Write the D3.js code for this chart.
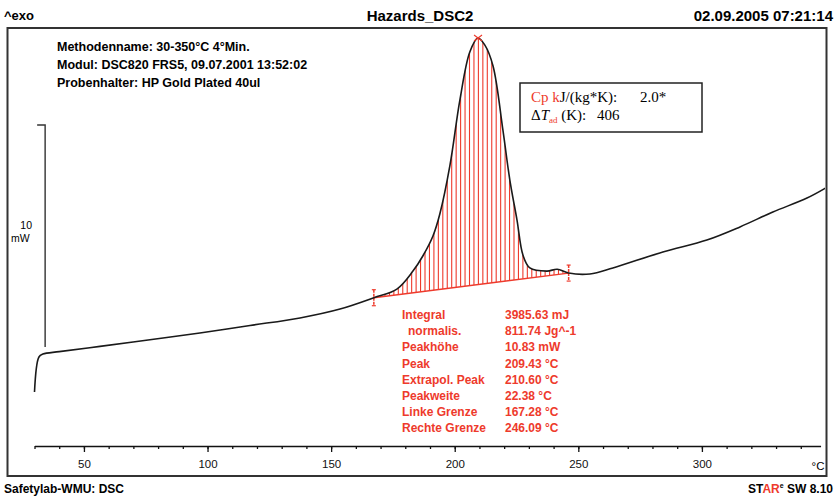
<!DOCTYPE html>
<html>
<head>
<meta charset="utf-8">
<script src="https://cdn.jsdelivr.net/npm/d3@7"></script>
<style>
  body { margin: 0; background: #fff; }
  svg { display: block; }
</style>
</head>
<body>
<div id="chart"></div>
<script>
// DSC curve, temperature in °C, heat flow in mW (exo up)
const temps = [30, 31.8, 33.4, 40, 56.5, 76.7, 96.9, 117.2, 137.4, 153.6, 167.3, 176.6, 183.1, 187.1, 191.2, 194, 198.1, 202.1, 206.1, 209.4, 212.2, 215.5, 219.5, 222.3, 225.2, 227.6, 230.4, 237.3, 241.5, 246.1, 254.7, 264, 284.2, 302, 315.4, 328.7, 342.5, 350];
const heatFlow = [-2.03, -0.45, -0.32, -0.21, 0.03, 0.33, 0.63, 0.97, 1.31, 1.71, 2.22, 2.61, 3.42, 4.1, 5.0, 6.0, 8.2, 11.13, 13.29, 13.92, 13.6, 12.66, 9.77, 7.52, 5.72, 4.14, 3.56, 3.42, 3.5, 3.33, 3.29, 3.56, 4.28, 4.82, 5.41, 6.08, 6.71, 7.16];

const majorTicks = [50, 100, 150, 200, 250, 300];
const minorTicks = d3.range(30, 350, 10);

const leftLimit = 167.28, rightLimit = 246.09, peakT = 209.43;

const resultLabels = ['Integral', '  normalis.', 'Peakhöhe', 'Peak', 'Extrapol. Peak', 'Peakweite', 'Linke Grenze', 'Rechte Grenze'];
const resultValues = ['3985.63 mJ', '811.74 Jg^-1', '10.83 mW', '209.43 °C', '210.60 °C', '22.38 °C', '167.28 °C', '246.09 °C'];

const methodLines = ['Methodenname: 30-350°C 4°Min.', 'Modul: DSC820 FRS5, 09.07.2001 13:52:02', 'Probenhalter: HP Gold Plated 40ul'];

const width = 834, height = 496;
const red = '#ee3a2c';
const sans = 'Liberation Sans, Arial, sans-serif';
const serif = 'Liberation Serif, Times New Roman, serif';

const data = temps.map((t, i) => ({ t: t, v: heatFlow[i] }));

const svg = d3.select('#chart').append('svg')
  .attr('width', width)
  .attr('height', height)
  .attr('font-family', sans);

const x = d3.scaleLinear().domain([30, 350]).range([34.5, 825.5]);
const y = d3.scaleLinear().domain([0, 10]).range([347, 125]);
const smooth = d3.curveCatmullRom.alpha(0.5);

// header
svg.append('text').attr('x', 4).attr('y', 20).attr('font-size', 13).attr('font-weight', 'bold').text('^exo');
svg.append('text').attr('x', 420).attr('y', 21).attr('text-anchor', 'middle').attr('font-size', 15).attr('font-weight', 'bold').text('Hazards_DSC2');
svg.append('text').attr('x', 833).attr('y', 21).attr('text-anchor', 'end').attr('font-size', 15).attr('font-weight', 'bold').text('02.09.2005 07:21:14');

// frame
svg.append('rect')
  .attr('x', 7.5).attr('y', 28)
  .attr('width', 819).attr('height', 448)
  .attr('fill', 'none').attr('stroke', '#333').attr('stroke-width', 2);

svg.append('defs').append('clipPath').attr('id', 'frameClip')
  .append('rect').attr('x', 9).attr('y', 29).attr('width', 816).attr('height', 446);

// method info
methodLines.forEach((s, i) => {
  svg.append('text')
    .attr('x', 57).attr('y', 51 + i * 18)
    .attr('font-size', 12.5).attr('font-weight', 'bold')
    .text(s);
});

// baseline between integration limits
function baseAt(t) {
  const v0 = heatFlow[temps.indexOf(167.3)];
  const v1 = heatFlow[temps.indexOf(246.1)];
  return v0 + (t - leftLimit) / (rightLimit - leftLimit) * (v1 - v0);
}

const peakPart = data.filter(d => d.t >= 167.3 && d.t <= 246.1);
const area = d3.area()
  .x(d => x(d.t))
  .y0(d => y(baseAt(d.t)))
  .y1(d => y(d.v))
  .curve(smooth);

svg.select('defs').append('clipPath').attr('id', 'peakClip')
  .append('path').attr('d', area(peakPart));

// hatching
const g = svg.append('g').attr('clip-path', 'url(#frameClip)');
g.append('g').attr('clip-path', 'url(#peakClip)')
  .selectAll('line')
  .data(d3.range(leftLimit + 0.9, rightLimit, 1.8))
  .join('line')
  .attr('x1', d => x(d)).attr('x2', d => x(d))
  .attr('y1', y(-3)).attr('y2', y(15))
  .attr('stroke', red).attr('stroke-width', 1.1);

g.append('line')
  .attr('x1', x(leftLimit)).attr('y1', y(baseAt(leftLimit)))
  .attr('x2', x(rightLimit)).attr('y2', y(baseAt(rightLimit)))
  .attr('stroke', red).attr('stroke-width', 1.4);

// limit markers
[leftLimit, rightLimit].forEach(t => {
  const cx = x(t), cy = y(baseAt(t));
  g.append('line').attr('x1', cx).attr('x2', cx).attr('y1', cy - 8).attr('y2', cy + 8)
    .attr('stroke', red).attr('stroke-width', 1.5).attr('stroke-dasharray', '3,1');
  [-8, 8].forEach(o => {
    g.append('line').attr('x1', cx - 2).attr('x2', cx + 2).attr('y1', cy + o).attr('y2', cy + o)
      .attr('stroke', red).attr('stroke-width', 1.2);
  });
});

// curve
const line = d3.line().x(d => x(d.t)).y(d => y(d.v)).curve(smooth);
g.append('path')
  .datum(data)
  .attr('d', line)
  .attr('fill', 'none')
  .attr('stroke', '#1a1a1a')
  .attr('stroke-width', 1.6);

// peak marker
const px = x(peakT), py = y(heatFlow[temps.indexOf(209.4)]);
g.append('path')
  .attr('d', `M${px - 4},${py - 3}L${px + 4},${py + 3}M${px - 4},${py + 3}L${px + 4},${py - 3}`)
  .attr('stroke', red).attr('stroke-width', 1.1);

// 10 mW scale bar
const barX = x(34.3);
svg.append('path')
  .attr('d', `M${barX - 8},${y(10)}H${barX}V${y(0)}`)
  .attr('fill', 'none').attr('stroke', '#333').attr('stroke-width', 1.4);
svg.append('text').attr('x', 32).attr('y', 229).attr('text-anchor', 'end').attr('font-size', 10.5).text('10');
svg.append('text').attr('x', 11).attr('y', 242).attr('font-size', 10.5).text('mW');

// Cp box
const box = svg.append('g');
box.append('rect').attr('x', 520).attr('y', 83).attr('width', 182).attr('height', 49)
  .attr('fill', 'none').attr('stroke', '#222').attr('stroke-width', 1.5);
const t1 = box.append('text').attr('x', 531).attr('y', 102).attr('font-family', serif).attr('font-size', 15);
t1.append('tspan').attr('fill', red).text('Cp k');
t1.append('tspan').text('J/(kg*K):');
box.append('text').attr('x', 640).attr('y', 102).attr('font-family', serif).attr('font-size', 15).text('2.0*');
const t2 = box.append('text').attr('x', 531).attr('y', 120).attr('font-family', serif).attr('font-size', 15);
t2.append('tspan').text('Δ');
t2.append('tspan').attr('font-style', 'italic').text('T');
t2.append('tspan').attr('fill', red).attr('font-size', 9).attr('dy', 3).text('ad');
t2.append('tspan').attr('dy', -3).text(' (K):');
box.append('text').attr('x', 597).attr('y', 120).attr('font-family', serif).attr('font-size', 15).text('406');

// results table
resultLabels.forEach((s, i) => {
  svg.append('text')
    .attr('x', s.startsWith(' ') ? 408 : 402).attr('y', 319 + i * 16.2)
    .attr('font-size', 12).attr('font-weight', 'bold').attr('fill', red)
    .text(s.trim());
  svg.append('text')
    .attr('x', 505).attr('y', 319 + i * 16.2)
    .attr('font-size', 12).attr('font-weight', 'bold').attr('fill', red)
    .text(resultValues[i]);
});

// x axis
const axisScale = x.copy().domain([30, 348]).range([x(30), x(348)]);
svg.append('g')
  .attr('transform', 'translate(0,446)')
  .call(d3.axisBottom(axisScale).tickValues(minorTicks).tickSize(3).tickSizeOuter(0).tickFormat(''))
  .call(a => a.select('.domain').attr('stroke', '#111').attr('stroke-width', 1.5))
  .call(a => a.selectAll('.tick line').attr('stroke', '#111').attr('stroke-width', 1.3));
svg.append('g')
  .attr('transform', 'translate(0,446)')
  .call(d3.axisBottom(axisScale).tickValues(majorTicks).tickSize(6).tickPadding(8))
  .call(a => a.select('.domain').remove())
  .call(a => a.selectAll('.tick line').attr('stroke', '#111').attr('stroke-width', 1.3))
  .call(a => a.selectAll('.tick text').attr('font-size', 11.5).attr('fill', '#111').attr('font-family', sans));
svg.append('text').attr('x', 818).attr('y', 470).attr('text-anchor', 'middle').attr('font-size', 11.5).text('°C');

// footer
svg.append('text').attr('x', 4).attr('y', 493).attr('font-size', 12).attr('font-weight', 'bold').text('Safetylab-WMU: DSC');
const star = svg.append('text').attr('x', 833).attr('y', 493).attr('text-anchor', 'end').attr('font-size', 12).attr('font-weight', 'bold');
star.append('tspan').text('ST');
star.append('tspan').attr('fill', red).text('AR');
star.append('tspan').attr('font-size', 7).attr('dy', -5).text('e');
star.append('tspan').attr('dy', 5).text(' SW 8.10');
</script>
</body>
</html>
